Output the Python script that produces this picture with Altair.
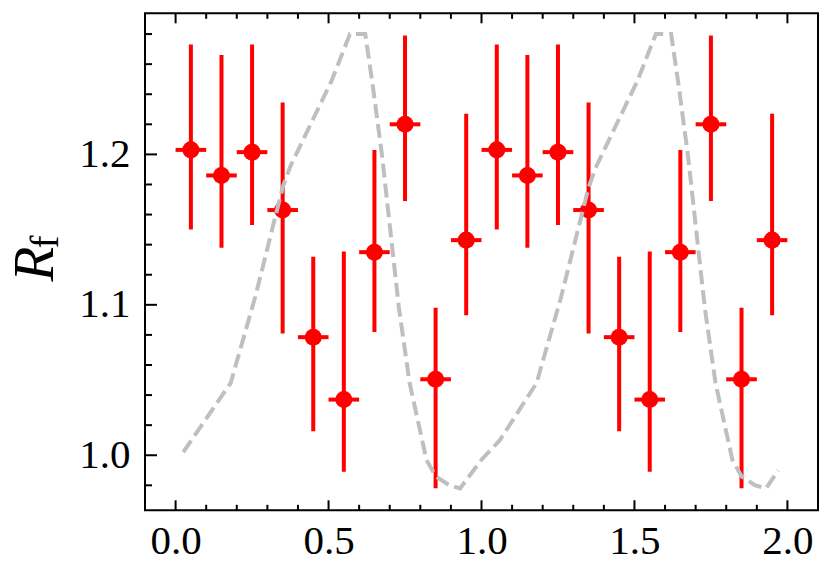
import altair as alt
import pandas as pd

# measured points (two identical periods)
x_pts = [0.05, 0.15, 0.25, 0.35, 0.45, 0.55, 0.65, 0.75, 0.85, 0.95,
         1.05, 1.15, 1.25, 1.35, 1.45, 1.55, 1.65, 1.75, 1.85, 1.95]
y_pts = [1.203, 1.186, 1.2015, 1.163, 1.0785, 1.037, 1.135, 1.220, 1.0505, 1.143,
         1.203, 1.186, 1.2015, 1.163, 1.0785, 1.037, 1.135, 1.220, 1.0505, 1.143]
y_hi = [1.273, 1.266, 1.273, 1.2345, 1.132, 1.1355, 1.203, 1.279, 1.098, 1.227,
        1.273, 1.266, 1.273, 1.2345, 1.132, 1.1355, 1.203, 1.279, 1.098, 1.227]
y_lo = [1.150, 1.138, 1.153, 1.081, 1.016, 0.989, 1.082, 1.169, 0.978, 1.093,
        1.150, 1.138, 1.153, 1.081, 1.016, 0.989, 1.082, 1.169, 0.978, 1.093]
x_err = [0.05] * 20

# dashed model curve
curve_x = [0.025, 0.18, 0.26, 0.35, 0.375, 0.51, 0.57, 0.62, 0.645, 0.675, 0.73, 0.765,
           0.82, 0.85, 0.895, 0.93, 1.00, 1.06, 1.18, 1.26, 1.35, 1.375, 1.51, 1.57,
           1.62, 1.645, 1.675, 1.73, 1.765, 1.82, 1.85, 1.895, 1.93, 1.97]
curve_y = [1.002, 1.048, 1.105, 1.178, 1.192, 1.249, 1.280, 1.280, 1.245, 1.199, 1.098, 1.048,
           0.997, 0.986, 0.980, 0.978, 0.997, 1.010, 1.048, 1.105, 1.178, 1.192, 1.249, 1.280,
           1.280, 1.245, 1.199, 1.098, 1.048, 0.997, 0.986, 0.980, 0.978, 0.990]

x_major = [0.0, 0.5, 1.0, 1.5, 2.0]
x_minor = [0.1, 0.2, 0.3, 0.4, 0.6, 0.7, 0.8, 0.9, 1.1, 1.2, 1.3, 1.4,
           1.6, 1.7, 1.8, 1.9]
y_major = [1.0, 1.1, 1.2]
y_minor = [0.98, 1.02, 1.04, 1.06, 1.08, 1.12, 1.14, 1.16, 1.18,
           1.22, 1.24, 1.26, 1.28]

W, H = 673, 497
FONT = "Liberation Serif"
RED = "#ff0000"

pts = pd.DataFrame({
    "x": x_pts, "y": y_pts, "hi": y_hi, "lo": y_lo,
    "xl": [a - e for a, e in zip(x_pts, x_err)],
    "xr": [a + e for a, e in zip(x_pts, x_err)],
})
curve = pd.DataFrame({"x": curve_x, "y": curve_y, "i": list(range(len(curve_x)))})

xs = alt.Scale(domain=[-0.1, 2.1], nice=False, zero=False)
ys = alt.Scale(domain=[0.9634, 1.2938], nice=False, zero=False)

x_axis = alt.Axis(values=x_major, format=".1f", labelFont=FONT, labelFontSize=41,
                  labelColor="black", ticks=False, tickSize=0, labelPadding=11,
                  domain=False, grid=False, title=None, labelFlush=False)
y_axis = alt.Axis(values=y_major, format=".1f", labelFont=FONT, labelFontSize=41,
                  labelColor="black", ticks=False, tickSize=0, labelPadding=15,
                  domain=False, grid=False, title=None)


def X(field):
    return alt.X(field, scale=xs, axis=x_axis)


def Y(field):
    return alt.Y(field, scale=ys, axis=y_axis)


base = alt.Chart(pts)

vbars = base.mark_rule(color=RED, strokeWidth=4).encode(
    x=X("x:Q"), y=Y("lo:Q"), y2="hi:Q",
)
hbars = base.mark_rule(color=RED, strokeWidth=4).encode(
    x=X("xl:Q"), x2="xr:Q", y=Y("y:Q"),
)
dots = base.mark_circle(color=RED, size=290, opacity=1).encode(
    x=X("x:Q"), y=Y("y:Q"),
)
line = alt.Chart(curve).mark_line(color="#bfbfbf", strokeWidth=4,
                                  strokeDash=[14, 6], opacity=1).encode(
    x=X("x:Q"), y=Y("y:Q"), order="i:Q",
)


def xticks(vals, length, top):
    df = pd.DataFrame({"v": vals})
    if top:
        y0, y1 = 0, length
    else:
        y0, y1 = H, H - length
    return alt.Chart(df).mark_rule(color="black", strokeWidth=2).encode(
        x=X("v:Q"), y=alt.value(y0), y2=alt.value(y1),
    )


def yticks(vals, length):
    df = pd.DataFrame({"v": vals})
    return alt.Chart(df).mark_rule(color="black", strokeWidth=2).encode(
        y=Y("v:Q"), x=alt.value(0), x2=alt.value(length),
    )


tick_layers = [
    xticks(x_major, 10, False), xticks(x_minor, 5.5, False),
    xticks(x_major, 10, True), xticks(x_minor, 5.5, True),
    yticks(y_major, 12), yticks(y_minor, 7),
]

title_R = alt.Chart(pd.DataFrame({"t": ["R"]})).mark_text(
    font=FONT, fontSize=57, fontStyle="italic", angle=270, align="center",
    baseline="alphabetic", color="black",
).encode(text="t:N", x=alt.value(-92), y=alt.value(250.7))
title_f = alt.Chart(pd.DataFrame({"t": ["f"]})).mark_text(
    font=FONT, fontSize=39, angle=270, align="center",
    baseline="alphabetic", color="black",
).encode(text="t:N", x=alt.value(-87), y=alt.value(228.7))

chart = alt.layer(
    vbars, hbars, dots, line, *tick_layers, title_R, title_f
).properties(
    width=W, height=H,
    background="white",
    autosize=alt.AutoSizeParams(type="none"),
    padding={"left": 137, "top": 5.3, "right": 6, "bottom": 62},
).configure_view(
    stroke="black", strokeWidth=2,
)

chart.save("out.html", embed_options={"renderer": "svg", "actions": False})
